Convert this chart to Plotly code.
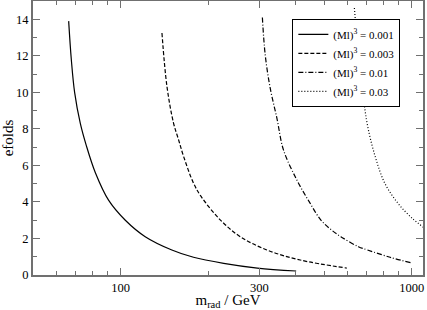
import numpy as np
import plotly.graph_objects as go

# Data
m_001 = [66.3, 67.7, 69.5, 72.7, 76.2, 81.9, 90.9, 103.8, 121.5, 150.0, 178.0, 226.0, 295.0, 401.0]
n_001 = [13.9, 11.8, 10.0, 8.3, 7.1, 5.6, 4.1, 3.0, 2.1, 1.37, 0.97, 0.64, 0.38, 0.22]

m_003 = [138.7, 144.3, 152.0, 158.2, 164.6, 178.0, 189.0, 219.9, 257.6, 318.0, 414.0, 598.6]
n_003 = [13.25, 10.32, 8.32, 7.40, 6.49, 5.03, 4.30, 3.02, 2.10, 1.37, 0.82, 0.38]

m_01 = [307.0, 313.9, 326.5, 344.3, 362.7, 403.0, 445.0, 487.0, 527.0, 571.0, 656.0, 705.0, 843.0, 1000.0]
n_01 = [14.1, 12.06, 10.24, 8.59, 6.85, 5.21, 4.0, 3.02, 2.5, 2.10, 1.55, 1.37, 0.97, 0.66]

m_03 = [635.7, 641.0, 655.0, 680.0, 705.0, 749.0, 810.0, 900.0, 1005.0, 1100.0]
n_03 = [14.62, 13.9, 12.0, 9.9, 8.2, 6.5, 5.0, 3.9, 3.1, 2.6]

labels = ["(Ml)<sup>3</sup> = 0.001", "(Ml)<sup>3</sup> = 0.003",
          "(Ml)<sup>3</sup> = 0.01", "(Ml)<sup>3</sup> = 0.03"]

x_tickvals = [100, 300, 1000]
x_ticktext = ["100", "300", "1000"]
x_minor = [50, 60, 70, 80, 90, 200, 400, 500, 600, 700, 800, 900]

series = [
    (m_001, n_001, "solid"),
    (m_003, n_003, "4px,2px"),
    (m_01, n_01, "5px,2px,1px,2px"),
    (m_03, n_03, "1px,2px"),
]

fig = go.Figure()
for (mx, ny, dash), lab in zip(series, labels):
    fig.add_trace(go.Scatter(x=mx, y=ny, mode="lines", name=lab,
                             line=dict(color="black", width=1.2, dash=dash,
                                       shape="spline", smoothing=1.0)))

axcol = "#707070"
font = "Liberation Serif, Times New Roman, serif"
fig.update_layout(
    width=427, height=310,
    margin=dict(l=33, r=4, t=1, b=35, autoexpand=False),
    paper_bgcolor="white", plot_bgcolor="white",
    font=dict(family=font, color="black", size=12.5),
    showlegend=True,
    legend=dict(x=0.665, y=0.935, xanchor="left", yanchor="top",
                bgcolor="white", bordercolor="black", borderwidth=1,
                font=dict(family=font, size=11, color="black"),
                itemwidth=30, tracegroupgap=0),
)
fig.update_xaxes(
    type="log", range=[np.log10(50), np.log10(1094)],
    tickmode="array", tickvals=x_tickvals, ticktext=x_ticktext,
    ticks="inside", ticklen=7, tickwidth=1, tickcolor=axcol,
    minor=dict(tickmode="array", tickvals=x_minor, ticks="inside", ticklen=4,
               tickcolor=axcol, showgrid=False),
    showline=True, linecolor=axcol, linewidth=2, mirror="allticks",
    showgrid=False, zeroline=False, automargin=False,
    title=dict(text="m<sub>rad</sub> / GeV", font=dict(size=15), standoff=3),
    tickfont=dict(size=12.5),
)
fig.update_yaxes(
    range=[0, 15], dtick=2, tick0=0,
    ticks="inside", ticklen=7, tickwidth=1, tickcolor=axcol,
    minor=dict(dtick=1, ticks="inside", ticklen=4, tickcolor=axcol, showgrid=False),
    showline=True, linecolor=axcol, linewidth=2, mirror="allticks",
    showgrid=False, zeroline=False, automargin=False,
    title=dict(text="efolds", font=dict(size=15), standoff=4),
    tickfont=dict(size=12.5),
)
fig.write_html("out.html", config={"displayModeBar": False},
               post_script="document.body.style.margin='0';document.body.style.padding='0';")
